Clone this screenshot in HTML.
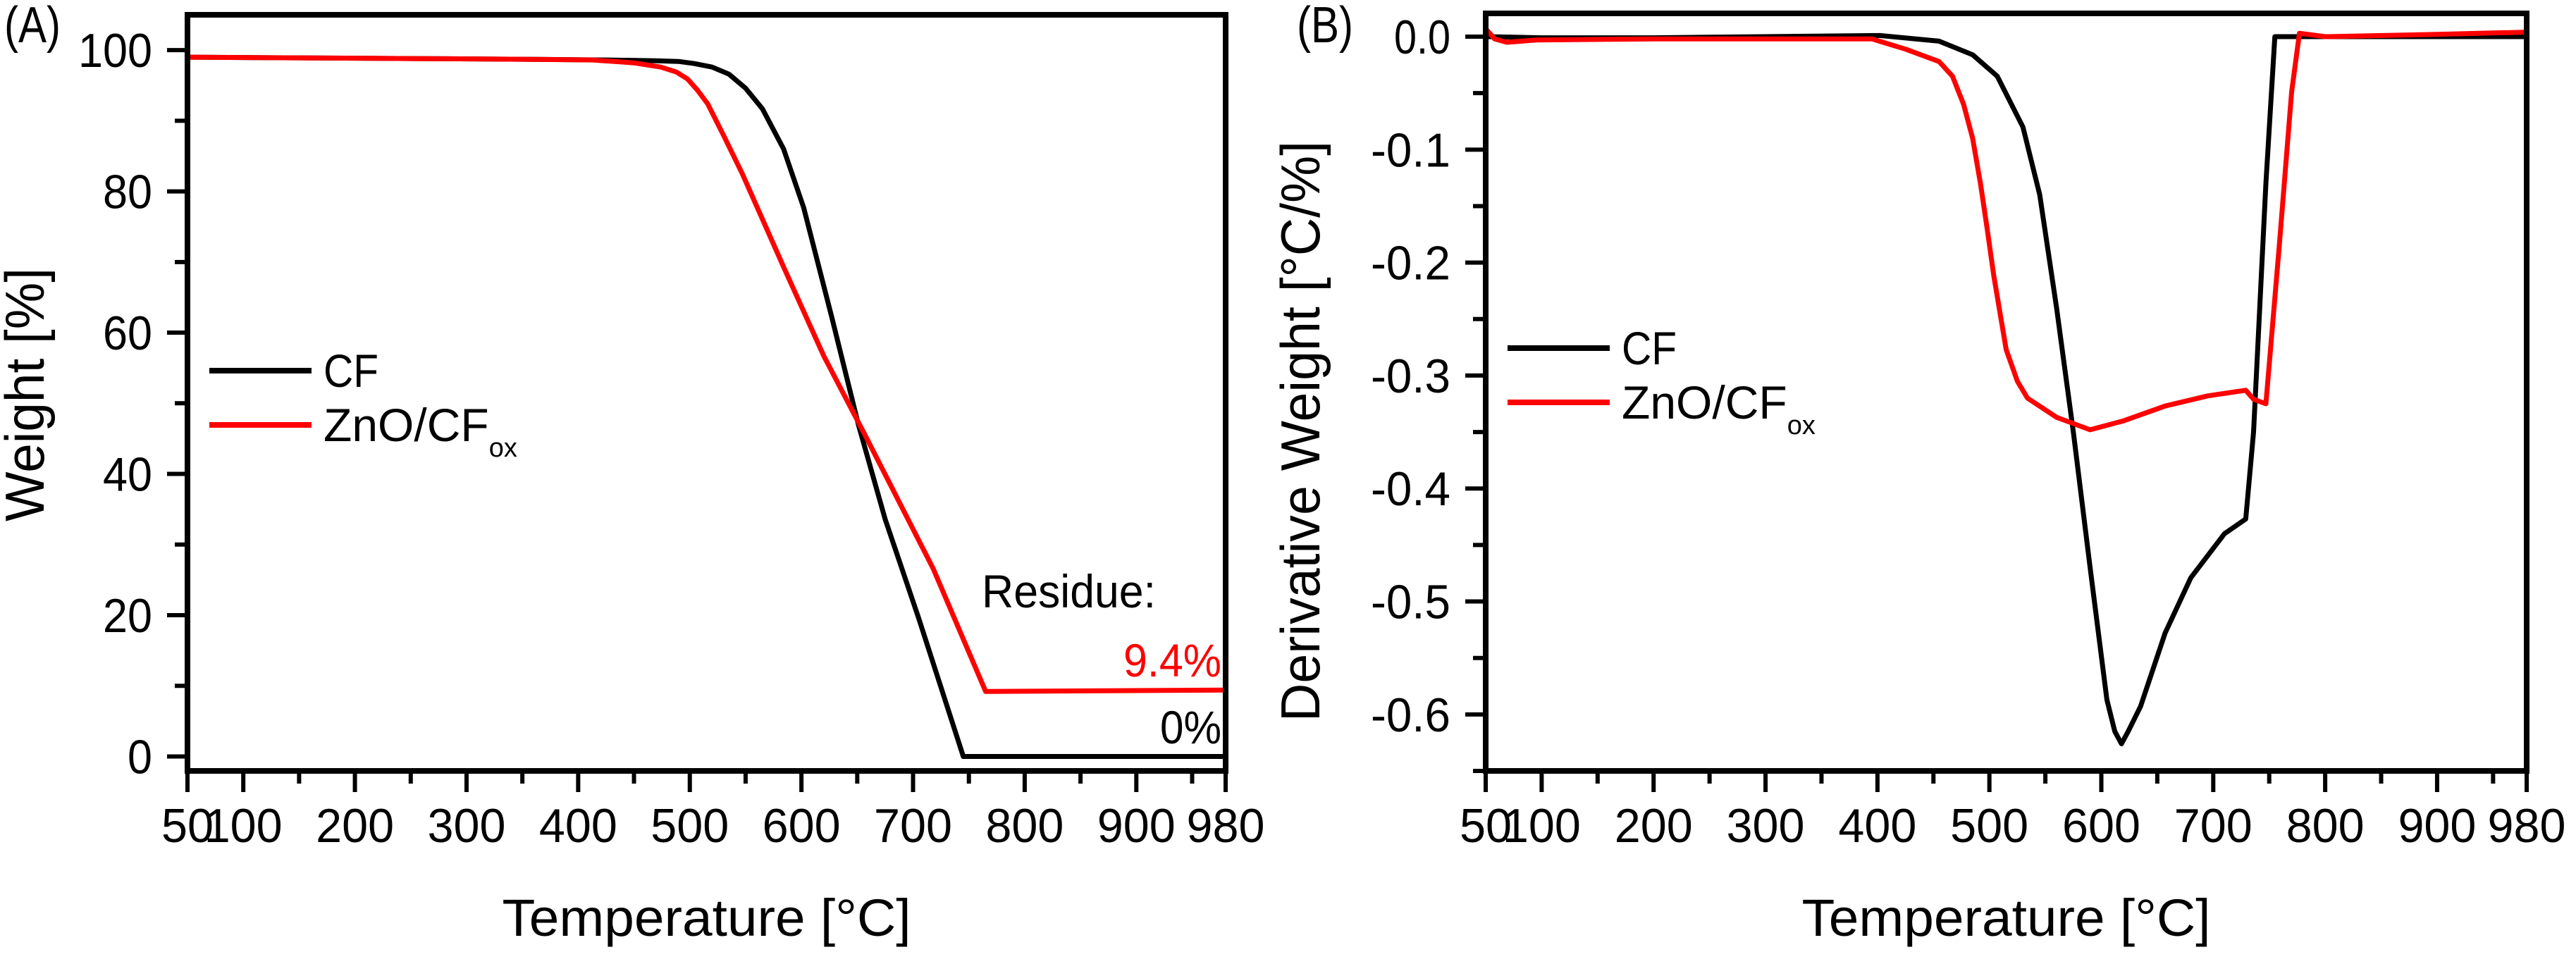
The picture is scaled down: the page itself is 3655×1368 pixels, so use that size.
<!DOCTYPE html>
<html><head><meta charset="utf-8"><style>
html,body{margin:0;padding:0;background:#fff;}
svg{display:block;font-family:"Liberation Sans",Arial,sans-serif;}
</style></head><body>
<svg id="fig" width="3655" height="1368" viewBox="0 0 3655 1368"></svg>
<script>
// Panel A data (TGA weight)
const cfTempA = [50,150,250,350,425,470,490,504,520,535,550,565,584,602,627,651,675,705,745,860,980];
const cfWeightA = [99.0,98.9,98.8,98.7,98.6,98.5,98.4,98.1,97.6,96.6,94.6,91.7,86,77.7,62.3,47,33.6,19.6,0,0,0];
const znTempA = [50,150,250,350,413,450,474,488,498,507,516,530,547,584,620,657,718,765,870,980];
const znWeightA = [99.0,98.9,98.8,98.7,98.6,98.2,97.6,96.9,95.9,94.3,92.4,88.0,82.5,69.3,56.7,45.5,26.6,9.2,9.3,9.4];
// Panel B data (DTG)
const cfTempB = [50,100,200,300,402,455,485,507,530,545,560,575,590,605,612,618,624,635,657,680,710,729,736,747,755,860,980];
const cfDerivB = [0,-0.001,-0.001,0,0.001,-0.004,-0.016,-0.035,-0.08,-0.14,-0.24,-0.35,-0.47,-0.587,-0.615,-0.626,-0.615,-0.593,-0.528,-0.479,-0.44,-0.427,-0.35,-0.13,0,0,0];
const znTempB = [50,58,69,95,200,300,395,425,455,467,477,485,492,498,504,515,525,534,560,590,620,657,695,729,736,747,759,770,777,800,900,980];
const znDerivB = [0.007,-0.002,-0.005,-0.003,-0.002,-0.002,-0.002,-0.011,-0.022,-0.035,-0.06,-0.09,-0.13,-0.17,-0.212,-0.277,-0.305,-0.32,-0.337,-0.348,-0.34,-0.327,-0.318,-0.313,-0.321,-0.325,-0.185,-0.049,0.003,0,0.002,0.004];
const xTicks = [50,100,200,300,400,500,600,700,800,900,980];
const xMinor = [150,250,350,450,550,650,750,850,950];
const yTicksA = [0,20,40,60,80,100];
const yMinorA = [10,30,50,70,90];
const yTicksB = [0,-0.1,-0.2,-0.3,-0.4,-0.5,-0.6];
const yMinorB = [-0.05,-0.15,-0.25,-0.35,-0.45,-0.55,-0.65];

const NS="http://www.w3.org/2000/svg";
const svg=document.getElementById('fig');
function mk(tag,attrs,parent){const e=document.createElementNS(NS,tag);for(const k in attrs)e.setAttribute(k,attrs[k]);(parent||svg).appendChild(e);return e;}
function narrow(el,len){el.setAttribute('textLength',len);el.setAttribute('lengthAdjust','spacingAndGlyphs');}

function panel(o){
  const g=mk('g',{});
  
  
  const sx=t=>o.x0+(t-50)/(930)*(o.x1-o.x0);
  const sy=v=>o.y0+(v-o.vmax)/(o.vmin-o.vmax)*(o.y1-o.y0);
  o.series.forEach(s=>{
    const d=s.t.map((t,i)=>(i?'L':'M')+sx(t).toFixed(1)+','+sy(s.v[i]).toFixed(1)).join('');
    const p=mk('path',{d:d,fill:'none',stroke:s.c,'stroke-width':7,'stroke-linejoin':'round'},g);
    
    
  });
  const f=mk('rect',{x:o.x0,y:o.y0,width:o.x1-o.x0,height:o.y1-o.y0,fill:'none',stroke:'#000','stroke-width':8},g);
  
  
  const xa=mk('g',{},g);
  
  
  xTicks.forEach(t=>{
    mk('line',{x1:sx(t),x2:sx(t),y1:o.y1,y2:o.y1+30,stroke:'#000','stroke-width':6},xa);
    const tx=mk('text',{x:sx(t),y:1195,'font-size':68,'text-anchor':'middle'},xa);
    
    
    tx.textContent=t;
    narrow(tx,String(t).length*37);
  });
  xMinor.forEach(t=>mk('line',{x1:sx(t),x2:sx(t),y1:o.y1,y2:o.y1+18,stroke:'#000','stroke-width':6},xa));
  const xt=mk('text',{x:(o.x0+o.x1)/2,y:1328,'font-size':74,'text-anchor':'middle'},g);
  
  
  xt.textContent='Temperature [°C]';
  narrow(xt,580);
  const ya=mk('g',{},g);
  
  
  o.yt.forEach(v=>{
    mk('line',{x1:o.x0-29,x2:o.x0,y1:sy(v),y2:sy(v),stroke:'#000','stroke-width':6},ya);
    const s=o.fmt(v);
    const tx=mk('text',{x:o.x0-50,y:sy(v)+24,'font-size':68,'text-anchor':'end'},ya);
    
    
    tx.textContent=s;
    narrow(tx,s.length===4?113:(s.indexOf('.')>=0?80:s.length*35));
  });
  o.ym.forEach(v=>mk('line',{x1:o.x0-18,x2:o.x0,y1:sy(v),y2:sy(v),stroke:'#000','stroke-width':6},ya));
  const yt=mk('text',{x:o.ytx,y:o.yty,'font-size':78,'text-anchor':'middle',transform:'rotate(-90 '+o.ytx+' '+o.yty+')'},g);
  
  
  yt.textContent=o.ytitle;
  narrow(yt,o.ytlen);
  const pl=mk('text',{x:o.plx,y:o.ply,'font-size':72},g);
  
  
  pl.textContent=o.label;
  narrow(pl,80);
  const lg=mk('g',{},g);
  
  
  const L=o.leg;
  mk('line',{x1:L.x,x2:L.x+145,y1:L.y,y2:L.y,stroke:'#000','stroke-width':8},lg);
  const t1=mk('text',{x:L.x+162,y:L.y+23,'font-size':66},lg);
  
  
  t1.textContent='CF';
  narrow(t1,78);
  mk('line',{x1:L.x,x2:L.x+145,y1:L.y+77,y2:L.y+77,stroke:'#ff0000','stroke-width':8},lg);
  const t2=mk('text',{x:L.x+162,y:L.y+100,'font-size':66},lg);
  
  
  t2.appendChild(document.createTextNode('ZnO/CF'));
  const sub=mk('tspan',{'font-size':38,dy:22},t2);
  sub.textContent='ox';
  return {g,sx,sy};
}

panel({name:'panel-a-weight',x0:266,x1:1739,y0:21,y1:1094,vmax:105,vmin:-2.05,
  yt:yTicksA,ym:yMinorA,fmt:v=>String(v),ytitle:'Weight [%]',ytx:62,yty:560,ytlen:360,
  label:'(A)',plx:6,ply:60,leg:{x:297,y:526},
  series:[{name:'cf-weight-line',t:cfTempA,v:cfWeightA,c:'#000'},{name:'zno-weight-line',t:znTempA,v:znWeightA,c:'#ff0000'}]});
panel({name:'panel-b-derivative',x0:2108,x1:3585,y0:19,y1:1094,vmax:0.0206,vmin:-0.65,
  yt:yTicksB,ym:yMinorB,fmt:v=>v.toFixed(1),ytitle:'Derivative Weight [°C/%]',ytx:1872,yty:612,ytlen:824,
  label:'(B)',plx:1840,ply:60,leg:{x:2139,y:494},
  series:[{name:'cf-derivative-line',t:cfTempB,v:cfDerivB,c:'#000'},{name:'zno-derivative-line',t:znTempB,v:znDerivB,c:'#ff0000'}]});

const r=mk('text',{x:1393,y:862,'font-size':66});


r.textContent='Residue:';
narrow(r,247);
const r1=mk('text',{x:1733,y:960,'font-size':66,'text-anchor':'end',fill:'#ff0000'});


r1.textContent='9.4%';
narrow(r1,139);
const r2=mk('text',{x:1733,y:1055,'font-size':66,'text-anchor':'end'});


r2.textContent='0%';
narrow(r2,87);
</script>
</body></html>
